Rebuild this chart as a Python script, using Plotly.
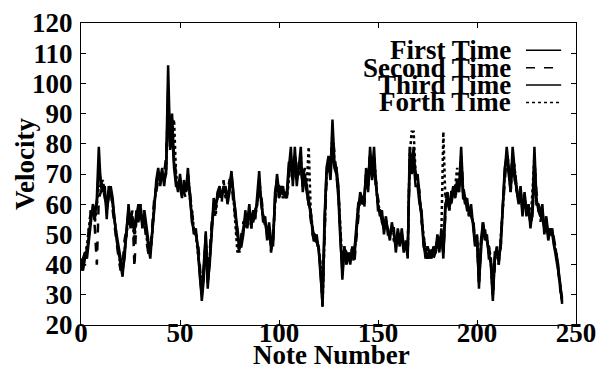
import plotly.graph_objects as go

first_time = [
    40,38,42,44,50,56,58,55,62,79,
    66,64,66,55,66,64,60,55,48,44,
    40,36,45,50,60,52,56,50,58,54,
    60,52,56,50,46,42,52,60,66,70,
    68,72,66,72,106,80,90,74,68,64,
    70,64,66,64,72,62,56,50,52,45,
    38,28,35,51,32,42,52,60,58,64,
    66,62,66,64,62,66,71,62,58,50,
    45,48,52,56,54,60,52,58,55,62,
    71,60,56,54,50,52,45,48,62,70,
    64,66,63,64,62,72,79,66,79,68,
    72,79,64,70,66,62,56,52,48,50,
    45,38,26,52,72,76,70,88,74,72,
    66,50,35,45,42,44,40,46,42,50,
    58,64,62,60,72,66,79,70,79,66,
    60,56,58,50,55,52,48,54,50,46,
    52,48,50,44,48,42,79,72,79,68,
    70,62,56,48,42,44,42,45,43,46,
    48,44,52,42,58,64,60,62,66,64,
    68,66,79,64,60,62,56,60,54,46,
    50,32,48,54,50,48,44,40,28,42,
    46,40,48,60,70,79,72,66,79,70,
    64,62,66,58,62,56,60,52,58,79,
    62,58,56,60,50,54,48,52,50,46,
    42,38,34,27,
]
second_time = [
    42,40,40,46,52,58,60,52,40,62,
    64,66,62,60,64,66,58,52,46,42,
    38,40,48,52,56,54,58,39,56,58,
    58,54,54,48,44,44,55,62,64,68,
    70,68,70,76,92,84,88,76,70,66,
    68,66,64,62,70,64,58,52,50,48,
    40,30,38,48,34,44,54,58,60,62,
    64,60,68,62,64,68,68,60,56,48,
    44,50,54,54,56,58,54,56,58,60,
    68,62,58,52,52,50,44,50,60,66,
    66,64,64,62,64,70,76,70,76,70,
    70,76,68,72,64,60,54,50,46,48,
    44,40,30,50,68,72,72,84,76,70,
    64,52,38,44,44,42,42,44,40,48,
    56,62,64,58,70,68,76,72,76,64,
    62,58,56,52,54,50,50,52,48,48,
    50,50,48,46,46,44,74,74,76,70,
    68,64,54,50,44,42,44,44,42,44,
    46,46,50,44,56,62,62,60,64,66,
    66,68,74,66,62,60,58,58,56,48,
    48,36,46,52,52,46,46,42,30,40,
    44,42,46,58,68,76,74,68,76,72,
    66,60,64,60,60,58,58,54,56,74,
    64,60,54,58,52,52,50,50,52,48,
    44,38,32,29,
]
third_time = [
    38,42,44,42,48,54,60,58,60,72,
    68,66,64,58,62,66,62,54,50,46,
    42,38,42,52,58,56,54,52,56,60,
    56,54,58,52,48,44,50,58,68,72,
    66,70,68,70,98,78,84,72,66,66,
    66,62,68,66,68,64,54,52,50,46,
    36,30,40,50,34,40,50,62,60,62,
    64,64,64,66,60,64,70,64,56,52,
    46,46,50,58,52,58,56,54,58,60,
    66,62,54,56,48,54,48,46,64,68,
    62,64,66,62,64,74,72,68,76,66,
    74,72,66,68,64,60,58,50,50,48,
    46,36,28,56,70,74,68,80,72,70,
    62,48,38,46,40,42,44,42,44,52,
    60,62,60,62,70,64,76,68,72,68,
    58,58,54,52,56,50,50,52,52,44,
    50,46,52,46,46,44,74,70,74,66,
    66,60,58,46,44,46,44,42,46,44,
    50,46,50,44,60,62,58,64,64,62,
    66,64,74,62,62,58,58,56,54,48,
    48,34,46,54,48,50,42,42,30,44,
    44,42,46,62,72,76,70,64,76,68,
    66,60,64,56,64,58,58,54,56,72,
    60,60,58,56,52,56,50,50,52,46,
    44,40,32,28,
]
forth_time = [
    40,40,44,46,52,58,58,54,60,66,
    66,68,64,60,64,64,60,54,48,44,
    40,40,44,50,56,54,54,48,56,56,
    60,54,56,50,44,44,50,60,66,68,
    70,70,68,72,88,80,84,88,70,66,
    68,64,66,64,70,62,58,52,50,44,
    40,32,38,48,36,42,52,58,56,64,
    64,62,66,64,62,66,68,62,52,44,
    46,48,52,52,56,58,52,56,56,60,
    66,60,56,54,52,50,46,48,60,66,
    64,64,62,64,62,68,74,68,76,70,
    70,76,66,70,66,79,58,52,48,48,
    46,40,26,50,70,74,70,84,74,72,
    64,52,40,46,44,44,42,46,44,50,
    60,62,62,60,70,68,76,70,76,68,
    60,58,56,52,54,52,50,52,50,48,
    50,48,50,46,46,44,76,84,84,70,
    68,62,56,48,44,44,44,44,44,44,
    46,46,50,84,62,64,58,62,64,66,
    72,66,76,64,62,60,56,58,54,48,
    50,34,48,52,50,48,46,40,30,42,
    44,40,48,58,70,76,72,64,76,72,
    64,62,64,58,62,58,60,54,64,76,
    62,58,56,58,52,54,50,52,50,48,
    44,38,32,28,
]
note_numbers = list(range(len(first_time)))

series_names = ["First Time", "Second Time", "Third Time", "Forth Time"]
series_values = [first_time, second_time, third_time, forth_time]
dashes = ["solid", "dash", "solid", "dot"]

x_ticks = [0, 50, 100, 150, 200, 250]
y_ticks = [20, 30, 40, 50, 60, 70, 80, 90, 100, 110, 120]

FONT = "Liberation Serif"
BOLD = dict(family=FONT, size=27, color="black", weight="bold")

fig = go.Figure()
for name, vals, dash in zip(series_names, series_values, dashes):
    fig.add_trace(go.Scatter(
        x=note_numbers, y=vals, mode="lines", name=name,
        line=dict(color="black", width=2.5, dash=dash),
        showlegend=False,
    ))

# legend drawn as right-aligned text with line samples on the right
row_y = [0.91, 0.852, 0.795, 0.737]
for name, dash, yy in zip(series_names, dashes, row_y):
    fig.add_annotation(
        x=0.873, y=yy, xref="paper", yref="paper", text=name,
        showarrow=False, xanchor="right", yanchor="middle", font=BOLD,
    )
    fig.add_shape(
        type="line", xref="paper", yref="paper",
        x0=0.899, x1=0.970, y0=yy, y1=yy,
        line=dict(color="black", width=1.5, dash=dash),
    )

# axis titles
fig.add_annotation(x=-0.113, y=0.533, xref="paper", yref="paper",
                   text="Velocity", textangle=-90, showarrow=False,
                   xanchor="center", yanchor="middle", font=BOLD)
fig.add_annotation(x=0.507, y=-0.098, xref="paper", yref="paper",
                   text="Note Number", showarrow=False,
                   xanchor="center", yanchor="middle", font=BOLD)

axis_common = dict(
    showgrid=False, zeroline=False, showline=True, linecolor="black",
    linewidth=1, mirror="ticks", ticks="inside", ticklen=5,
    tickcolor="black", tickwidth=1, automargin=False,
    tickfont=BOLD,
)

# the page body adds an 8px offset, so the figure is 8px smaller with
# left/top margins reduced accordingly
fig.update_layout(
    width=603, height=361,
    margin=dict(l=73, r=35, t=15, b=44),
    paper_bgcolor="white", plot_bgcolor="white",
    font=BOLD,
    xaxis=dict(range=[0, 250], tickvals=x_ticks,
               ticktext=[str(v) for v in x_ticks],
               ticklabelstandoff=-16, **axis_common),
    yaxis=dict(range=[20, 120], tickvals=y_ticks,
               ticktext=[str(v) for v in y_ticks],
               ticklabelstandoff=2, **axis_common),
)

fig.write_html("out.html")
